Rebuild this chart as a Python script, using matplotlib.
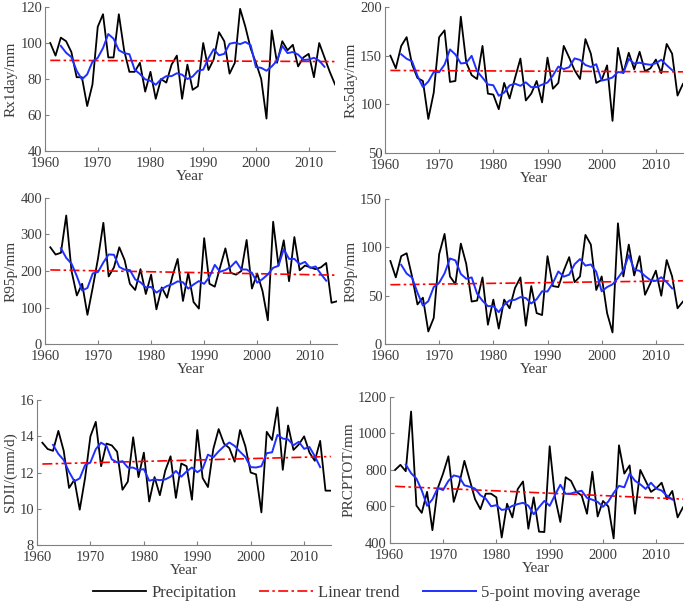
import numpy as np
import matplotlib
matplotlib.use("Agg")
from matplotlib import pyplot as plt

plt.rcParams['font.family'] = ['Liberation Serif', 'DejaVu Serif']
plt.rcParams['text.color'] = '#3c3c3c'
plt.rcParams['axes.labelcolor'] = '#3c3c3c'
plt.rcParams['xtick.color'] = '#808080'
plt.rcParams['ytick.color'] = '#808080'
plt.rcParams['xtick.labelcolor'] = '#3c3c3c'
plt.rcParams['ytick.labelcolor'] = '#3c3c3c'

years = np.arange(1961, 2016)

rx1day = [100, 93, 103, 101, 95, 81, 81, 65, 77, 109,
          116, 92, 92, 116, 96, 84, 84, 89, 73, 84,
          69, 80, 78, 88, 93, 69, 88, 74, 76, 100,
          85, 91, 106, 101, 83, 89, 119, 109, 97, 89,
          80, 58, 107, 89, 101, 96, 99, 87, 92, 94,
          81, 100, 92, 84, 77]
rx5day = [150, 137, 160, 169, 141, 127, 124, 85, 112, 169,
          176, 123, 124, 190, 143, 130, 126, 160, 111, 110,
          95, 122, 106, 127, 147, 104, 111, 124, 102, 148,
          116, 122, 160, 148, 135, 126, 167, 152, 122, 125,
          140, 83, 158, 132, 153, 136, 154, 134, 137, 146,
          132, 162, 152, 109, 121]
r95p = [265, 245, 250, 352, 200, 133, 165, 80, 155, 235,
        332, 185, 210, 265, 230, 165, 148, 205, 137, 190,
        95, 155, 127, 185, 233, 118, 195, 115, 97, 290,
        165, 157, 210, 262, 195, 190, 200, 285, 152, 193,
        145, 65, 335, 215, 284, 172, 293, 202, 215, 210,
        205, 210, 222, 113, 117]
r99p = [86, 69, 91, 94, 70, 41, 48, 13, 27, 93,
        114, 70, 62, 104, 83, 44, 45, 69, 20, 46,
        16, 46, 37, 58, 69, 19, 60, 32, 30, 91,
        60, 59, 76, 90, 64, 70, 113, 103, 56, 70,
        32, 12, 125, 70, 103, 71, 91, 51, 63, 76,
        50, 87, 70, 37, 44]
sdii = [13.65, 13.3, 13.2, 14.3, 13.2, 11.15, 11.6, 9.95, 11.7, 14.0,
        14.8, 12.35, 13.6, 13.5, 13.15, 11.05, 11.5, 13.95, 11.75, 13.1,
        10.4, 11.75, 10.75, 12.1, 12.9, 10.6, 12.5, 12.35, 10.5, 14.35,
        11.7, 11.2, 13.3, 14.4, 13.6, 13.35, 12.6, 14.35, 13.45, 12.0,
        11.9, 9.8, 14.25, 13.8, 15.6, 12.15, 14.6, 13.25, 13.55, 14.0,
        13.1, 12.65, 13.75, 11.0, 11.0]
prcptot = [800, 828, 793, 1120, 605, 565, 680, 470, 700, 780,
           875, 625, 720, 850, 745, 640, 585, 670, 670, 650,
           430, 615, 540, 695, 737, 478, 650, 462, 460, 930,
           650, 515, 760, 740, 680, 660, 560, 790, 545, 630,
           600, 425, 935, 780, 825, 560, 800, 740, 680, 700,
           730, 640, 685, 540, 595]

series = [rx1day, rx5day, r95p, r99p, sdii, prcptot]
ylabels = ["Rx1day/mm", "Rx5day/mm", "R95p/mm", "R99p/mm", "SDII/(mm/d)", "PRCPTOT/mm"]
yticks = [np.arange(40, 121, 20), np.arange(50, 201, 50), np.arange(0, 401, 100),
          np.arange(0, 151, 50), np.arange(8, 17, 2), np.arange(400, 1201, 200)]

# axes boxes in figure fractions
boxes = [[0.0657, 0.7508, 0.4234, 0.2376],
         [0.562, 0.7475, 0.435, 0.241],
         [0.0657, 0.4323, 0.426, 0.241],
         [0.562, 0.4323, 0.435, 0.239],
         [0.054, 0.1007, 0.429, 0.239],
         [0.569, 0.104, 0.428, 0.241]]

fig = plt.figure(figsize=(6.85, 6.06), dpi=100)

for vals, lab, yt, box in zip(series, ylabels, yticks, boxes):
    ax = fig.add_axes(box)
    vals = np.array(vals, dtype=float)
    # 5-point moving average (centered)
    ma = np.convolve(vals, np.ones(5) / 5, mode='valid')
    # linear trend
    k, b = np.polyfit(years, vals, 1)
    l1, = ax.plot(years, vals, color='black', lw=1.3)
    l2, = ax.plot(years, k * years + b, color='red', lw=1.2,
                  linestyle=(0, (6, 2, 1.5, 2)))
    l3, = ax.plot(years[2:-2], ma, color='#1f2fff', lw=1.4)
    ax.set_xlim(1960, 2015)
    ax.set_ylim(yt[0], yt[-1])
    ax.set_xticks(np.arange(1960, 2011, 10))
    ax.set_yticks(yt)
    ax.tick_params(direction='in', length=3, width=0.8, labelsize=10.5)
    ax.tick_params(axis='x', pad=4.5)
    ax.tick_params(axis='y', pad=2)
    for s in ['top', 'right']:
        ax.spines[s].set_visible(False)
    for s in ['left', 'bottom']:
        ax.spines[s].set_color('#808080')
        ax.spines[s].set_linewidth(0.8)
    ax.set_xlabel("Year", fontsize=11, labelpad=0)
    ax.set_ylabel(lab, fontsize=11, labelpad=2)

fig.legend([l1, l2, l3], ["Precipitation", "Linear trend", "5-point moving average"],
           loc='center', bbox_to_anchor=(0.535, 0.021), ncol=3, frameon=False,
           fontsize=12, handlelength=3.2, handletextpad=0.3, columnspacing=1.4)

fig.savefig("out.png", dpi=100)
